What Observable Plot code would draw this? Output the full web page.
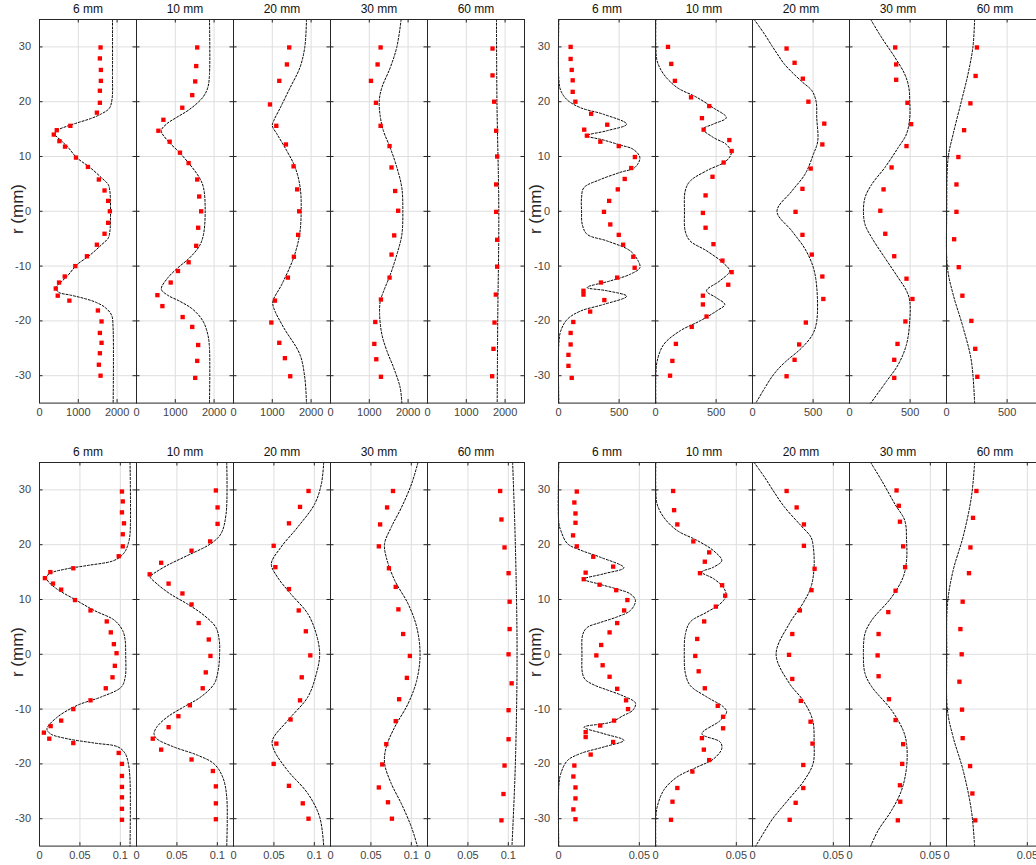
<!DOCTYPE html>
<html><head><meta charset="utf-8">
<script src="https://cdn.jsdelivr.net/npm/d3@7"></script>
<script src="https://cdn.jsdelivr.net/npm/@observablehq/plot@0.6"></script>
<style>
html,body{margin:0;padding:0;background:#fff;overflow:hidden;}
#wrap{position:relative;width:1036px;height:865px;overflow:hidden;font-family:"Liberation Sans",Arial,Helvetica,sans-serif;}
.grp{position:absolute;}
.ylab{position:absolute;font-size:17px;color:#262626;transform:translate(-50%,-50%) rotate(-90deg);white-space:nowrap;line-height:1;}
</style></head><body><div id="wrap"></div>
<script>
const panels = ["6 mm", "10 mm", "20 mm", "30 mm", "60 mm"];
const rTicks = [-30, -20, -10, 0, 10, 20, 30];
const rDomain = [-35, 35];

// ---------- top-left group ----------
const tlTicks = [0, 1000, 2000];
const tlDomain = [0, 2500];
const tlPoints = [
  [[29.9,1573],[27.9,1556],[25.8,1582],[23.8,1582],[22.0,1556],[19.8,1556],[18.0,1479],[15.6,795],[14.8,445],[14.0,368],[12.8,513],[11.8,658],[9.8,940],[8.1,1248],[5.8,1530],[3.8,1676],[1.9,1770],[0,1813],[-2.1,1770],[-4.1,1676],[-6.1,1479],[-8.2,1223],[-10.0,923],[-11.9,650],[-13.0,504],[-14.1,419],[-15.4,470],[-16.3,770],[-18.1,1505],[-20.1,1599],[-22.2,1556],[-24.0,1599],[-25.9,1556],[-28.0,1530],[-30.0,1573]],
  [[29.9,1565],[26.5,1539],[23.7,1513],[21.2,1436],[18.9,1180],[16.7,693],[14.7,564],[12.7,855],[10.7,1120],[8.8,1343],[5.8,1565],[2.7,1616],[0,1667],[-3.0,1590],[-6.3,1539],[-9.3,1343],[-10.9,1069],[-13.0,881],[-15.3,539],[-17.3,667],[-19.3,1189],[-21.1,1436],[-24.4,1590],[-27.3,1565],[-30.4,1513]],
  [[29.9,1436],[26.8,1377],[23.8,1180],[19.5,940],[15.6,1103],[12.2,1351],[8.2,1548],[4.0,1642],[0,1693],[-4.3,1667],[-8.3,1556],[-12.1,1402],[-16.3,1069],[-20.3,975],[-24.0,1180],[-26.8,1325],[-30.1,1462]],
  [[29.9,1291],[26.8,1214],[23.8,1043],[19.8,1171],[15.6,1291],[11.9,1522],[8.0,1573],[3.7,1667],[0.1,1744],[-4.4,1642],[-7.9,1573],[-12.1,1522],[-16.1,1300],[-20.2,1154],[-24.2,1129],[-27.0,1180],[-30.2,1300]],
  [[29.7,1676],[24.8,1676],[20.0,1719],[14.7,1770],[10.0,1796],[4.9,1770],[-0.1,1770],[-5.2,1796],[-10.1,1796],[-15.2,1761],[-20.3,1727],[-25.1,1701],[-30.1,1667]]
];
const tlCurves = [
  [[35,1881],[25,1881],[20.5,1870],[18.8,1800],[17.8,1600],[17.0,1350],[16.2,1000],[15.5,700],[14.8,470],[14.1,395],[12.8,573],[11.6,744],[9.8,958],[8.0,1300],[6.1,1600],[4.9,1770],[3.7,1813],[0,1830],[-3.7,1813],[-4.9,1770],[-6.1,1600],[-8.0,1300],[-9.8,958],[-11.6,744],[-12.8,573],[-14.0,410],[-14.8,500],[-15.3,800],[-15.9,1150],[-16.6,1450],[-17.6,1700],[-19.0,1860],[-21,1895],[-35,1898]],
  [[35,1881],[25,1881],[22.6,1838],[20.8,1710],[18.6,1368],[17.1,1026],[15.9,770],[14.7,640],[12.8,812],[11.0,1069],[8.6,1368],[6.1,1624],[4.3,1727],[0,1770],[-4.2,1727],[-6.3,1624],[-8.5,1368],[-10.3,1069],[-12.1,812],[-14.2,640],[-15.3,800],[-16.4,1111],[-17.9,1453],[-20.0,1710],[-22.5,1838],[-25,1881],[-35,1881]],
  [[35,1881],[30,1838],[26.2,1710],[22.6,1462],[18.9,1206],[16.5,1035],[15.6,1000],[14.1,1120],[11.0,1377],[8.0,1590],[4.3,1719],[0,1744],[-4.3,1702],[-8.5,1548],[-13.3,1248],[-16.4,1017],[-17.6,1035],[-21.2,1291],[-26.1,1710],[-30.4,1838],[-35,1881]],
  [[35,1821],[30,1710],[26.2,1539],[22.6,1325],[20.2,1257],[17.3,1283],[14.6,1368],[11.6,1539],[8.0,1710],[4.3,1838],[0,1864],[-4.3,1838],[-7.9,1710],[-11.6,1539],[-14.6,1368],[-16.4,1283],[-18.8,1266],[-22.5,1325],[-25.5,1454],[-28.5,1625],[-32.2,1796],[-35,1838]],
  [[35,1778],[20,1790],[0,1838],[-20,1810],[-35,1796]]
];

// ---------- top-right group ----------
const trTicks = [0, 500];
const trDomain = [0, 800];
const trPoints = [
  [[30.0,100],[27.8,100],[25.8,109],[23.9,117],[21.8,117],[20.0,139],[17.8,269],[15.8,402],[14.9,212],[13.8,234],[12.7,345],[11.9,497],[9.9,630],[7.9,600],[5.9,546],[4.0,489],[1.9,418],[-0.1,375],[-2.4,427],[-4.3,497],[-6.1,533],[-8.3,617],[-10.3,628],[-12.1,484],[-13.0,350],[-14.5,206],[-15.2,206],[-16.2,378],[-18.3,261],[-20.2,122],[-22.2,100],[-24.3,100],[-26.2,82],[-28.2,82],[-30.4,109]],
  [[30.0,103],[26.9,130],[23.8,160],[20.8,293],[19.2,443],[17.0,383],[14.9,397],[13.0,609],[11.0,628],[8.9,562],[6.3,470],[2.9,413],[-0.3,391],[-3.0,413],[-6.0,478],[-9.0,552],[-11.1,628],[-13.4,600],[-15.4,391],[-17.0,391],[-19.2,421],[-21.1,299],[-24.2,168],[-27.3,139],[-30.0,120]],
  [[29.7,281],[27.1,347],[24.2,415],[20.0,461],[16.0,592],[12.2,576],[7.8,480],[4.1,412],[-0.1,355],[-4.3,412],[-7.9,489],[-11.9,576],[-16.0,584],[-20.3,440],[-24.3,385],[-27.1,347],[-30.1,281]],
  [[29.9,377],[26.8,385],[24.0,385],[19.8,478],[15.9,508],[11.9,470],[8.0,347],[4.0,281],[0.1,254],[-4.1,295],[-8.2,369],[-12.3,470],[-16.0,519],[-20.1,461],[-24.2,396],[-27.1,369],[-30.4,369]],
  [[29.9,251],[24.7,240],[19.7,197],[14.8,145],[9.9,98],[4.9,82],[-0.1,82],[-5.1,63],[-10.2,101],[-15.4,131],[-20.0,205],[-25.1,237],[-30.2,254]]
];
const trCurves = [
  [[35,3],[24,3],[22,19],[20.3,73],[18.9,182],[17.7,372],[15.9,562],[14.7,399],[13.8,236],[13.0,372],[12.1,508],[11.3,617],[9.8,671],[8.0,630],[7.1,508],[5.8,345],[4.3,209],[2.5,190],[0,190],[-2.4,196],[-4.2,236],[-5.4,399],[-7.2,590],[-9.1,658],[-10.3,671],[-11.5,590],[-12.7,427],[-13.9,236],[-14.5,399],[-15.5,562],[-17.0,372],[-18.2,182],[-19.7,73],[-21.8,19],[-24,3],[-35,3]],
  [[35,3],[30,3],[27.4,14],[25.0,68],[22.6,177],[20.8,340],[18.9,475],[17.1,584],[15.9,475],[15.0,394],[13.5,475],[12.2,584],[10.7,625],[9.2,584],[7.4,421],[5.5,285],[3.7,245],[0,239],[-3.6,245],[-5.4,285],[-7.2,421],[-9.4,557],[-10.9,611],[-12.7,530],[-14.5,421],[-15.8,503],[-17.0,571],[-18.2,503],[-20.0,367],[-21.8,204],[-24.3,68],[-27.3,14],[-30,3],[-35,3]],
  [[35,14],[32.3,100],[30.2,160],[28.7,205],[26.8,265],[23.8,400],[22,490],[20,525],[17,530],[12.8,538],[10.4,502],[6.8,434],[3.7,325],[0,202],[-3.6,325],[-6.9,434],[-10.3,502],[-13.9,530],[-20,530],[-22.5,495],[-24.9,407],[-27.3,280],[-28.7,215],[-30.2,160],[-32.3,100],[-35,27]],
  [[35,175],[31.7,265],[28.1,374],[25.0,456],[22.6,489],[20.1,497],[17.1,497],[14.1,470],[11.6,401],[8.0,292],[4.9,183],[2.5,128],[0,115],[-2.4,128],[-4.8,183],[-8.5,292],[-12.1,401],[-14.5,470],[-16.4,497],[-20.0,497],[-24.3,470],[-28.0,401],[-31.0,306],[-35,175]],
  [[35,232],[30,218],[25,177],[20.1,123],[14.1,55],[9.8,14],[0,2],[-10.3,8],[-15.2,55],[-21.2,137],[-27.3,205],[-35,232]]
];

// ---------- bottom-left group ----------
const blTicks = [0, 0.05, 0.1];
const blDomain = [0, 0.12];
const blPoints = [
  [[29.7,0.102],[27.9,0.103],[25.9,0.102],[23.9,0.1045],[21.9,0.103],[19.7,0.103],[17.9,0.098],[15.7,0.0418],[15.0,0.0134],[13.9,0.0067],[12.9,0.0167],[11.8,0.0268],[9.9,0.0439],[8.0,0.0631],[6.0,0.0832],[4.0,0.0882],[1.85,0.092],[0.2,0.0953],[-2.1,0.0932],[-4.2,0.0903],[-6.2,0.082],[-8.4,0.0631],[-10.0,0.0418],[-12.1,0.0268],[-13.1,0.0138],[-14.3,0.0054],[-15.4,0.0121],[-16.2,0.0418],[-18.0,0.098],[-20.0,0.102],[-22.2,0.102],[-24.2,0.102],[-26.1,0.102],[-28.2,0.102],[-30.2,0.102]],
  [[29.9,0.0982],[26.8,0.1003],[23.8,0.1003],[20.6,0.0911],[18.9,0.0681],[16.7,0.0305],[14.6,0.0163],[12.9,0.0397],[11.1,0.0568],[9.1,0.0681],[5.7,0.0769],[2.7,0.0894],[-0.3,0.0915],[-3.3,0.0857],[-6.2,0.0819],[-9.3,0.066],[-11.3,0.0518],[-13.3,0.0397],[-15.4,0.0201],[-17.4,0.0305],[-19.2,0.0681],[-21.3,0.0945],[-24.1,0.0982],[-27.2,0.0982],[-30.1,0.0982]],
  [[29.8,0.0928],[26.9,0.0823],[23.9,0.0686],[19.8,0.0497],[15.9,0.0518],[11.9,0.0686],[8.0,0.0807],[4.2,0.0895],[-0.2,0.095],[-4.2,0.0844],[-8.4,0.0823],[-11.9,0.0706],[-16.3,0.053],[-20.0,0.0497],[-24.0,0.0686],[-27.2,0.0857],[-30.0,0.0928]],
  [[29.8,0.0773],[26.8,0.070],[23.7,0.0614],[19.7,0.0598],[15.7,0.0723],[12.3,0.0807],[8.2,0.084],[3.7,0.0899],[-0.3,0.0982],[-4.3,0.0945],[-8.2,0.0849],[-12.2,0.0807],[-16.4,0.069],[-20.1,0.064],[-24.3,0.0598],[-27.0,0.0711],[-30.0,0.076]],
  [[29.8,0.0899],[24.6,0.0915],[19.5,0.0953],[14.8,0.1003],[9.6,0.1016],[4.6,0.1016],[0,0.1003],[-5.3,0.1041],[-10.2,0.1003],[-15.5,0.1003],[-20.3,0.0953],[-25.5,0.094],[-30.3,0.0915]]
];
const blCurves = [
  [[35,0.112],[22,0.112],[20.3,0.110],[18.8,0.106],[17.8,0.100],[17.0,0.090],[16.2,0.059],[15.6,0.034],[14.8,0.0134],[14.1,0.0084],[13.2,0.0113],[11.9,0.0217],[10.1,0.0426],[8.0,0.0677],[6.2,0.0928],[4.3,0.103],[2.5,0.106],[0,0.1066],[-4.2,0.106],[-6.0,0.101],[-7.8,0.076],[-9.3,0.047],[-11.5,0.0217],[-13.6,0.0092],[-14.5,0.0134],[-15.4,0.034],[-16.2,0.068],[-16.9,0.097],[-18.1,0.106],[-20.0,0.110],[-23,0.112],[-35,0.112]],
  [[35,0.1116],[25.6,0.1108],[22.0,0.1045],[20.2,0.092],[18.0,0.0627],[16.2,0.0376],[14.7,0.0209],[14.2,0.0167],[12.9,0.025],[11.0,0.0418],[9.2,0.0627],[7.1,0.0836],[4.9,0.0982],[2.5,0.1024],[0,0.1028],[-2.9,0.1011],[-5.4,0.096],[-7.8,0.0794],[-9.6,0.0585],[-11.5,0.0376],[-13.3,0.025],[-14.5,0.0217],[-15.4,0.025],[-16.9,0.046],[-18.4,0.0752],[-20.0,0.096],[-22.4,0.1066],[-26,0.1116],[-35,0.1116]],
  [[35,0.1116],[31.1,0.1087],[27.4,0.1003],[23.2,0.0794],[19.5,0.0585],[16.5,0.0468],[14.1,0.0543],[11.0,0.071],[7.4,0.0919],[3.7,0.1024],[0,0.1066],[-3.6,0.1024],[-7.8,0.0919],[-12.1,0.0669],[-15.7,0.0481],[-17.5,0.0502],[-21.2,0.0669],[-25.4,0.0919],[-29.7,0.1066],[-35,0.1116]],
  [[35,0.1082],[31.1,0.1003],[26.8,0.0878],[23.2,0.0752],[20.2,0.0669],[17.7,0.069],[13.5,0.0794],[9.2,0.096],[5.0,0.1066],[0,0.1108],[-4.8,0.1066],[-9.0,0.096],[-13.3,0.0794],[-16.9,0.069],[-19.9,0.0669],[-23.6,0.0752],[-27.3,0.0878],[-31.6,0.1003],[-35,0.1074]],
  [[35,0.1053],[20,0.1087],[0,0.1108],[-20,0.1087],[-35,0.1045]]
];

// ---------- bottom-right group ----------
const brTicks = [0, 0.05];
const brDomain = [0, 0.06];
const brPoints = [
  [[29.7,0.0113],[27.7,0.0098],[25.7,0.0105],[24.0,0.0105],[21.7,0.009],[19.7,0.0113],[17.8,0.0215],[16.0,0.0338],[14.9,0.0168],[13.7,0.0156],[12.7,0.0254],[11.7,0.0357],[9.9,0.0426],[8.0,0.0406],[5.7,0.0363],[4.0,0.0316],[1.7,0.0264],[-0.2,0.0234],[-2.0,0.0273],[-4.1,0.0316],[-6.3,0.0363],[-8.4,0.0418],[-10.0,0.043],[-12.1,0.0344],[-13.0,0.0258],[-14.2,0.0168],[-15.1,0.0168],[-16.0,0.0338],[-18.3,0.0199],[-20.3,0.0098],[-22.3,0.0092],[-24.3,0.0105],[-26.3,0.0105],[-28.3,0.0092],[-30.1,0.0105]],
  [[29.8,0.0109],[26.3,0.0115],[23.7,0.0135],[20.6,0.0234],[18.6,0.0332],[16.9,0.0305],[14.8,0.0275],[12.6,0.0412],[10.7,0.0431],[8.7,0.0373],[6.0,0.0301],[2.8,0.0258],[-0.3,0.0246],[-3.1,0.0267],[-6.2,0.0305],[-9.4,0.0385],[-11.4,0.0418],[-13.5,0.0418],[-15.3,0.0287],[-17.4,0.0299],[-19.3,0.0332],[-21.4,0.0228],[-24.4,0.0135],[-26.9,0.0105],[-30.2,0.0096]],
  [[29.8,0.0211],[26.8,0.0273],[23.7,0.0318],[19.8,0.0318],[15.6,0.0384],[11.7,0.0365],[8.0,0.0293],[3.7,0.0246],[-0.1,0.0226],[-4.5,0.0246],[-8.5,0.0299],[-12.3,0.0359],[-16.3,0.0371],[-20.2,0.0314],[-24.4,0.0314],[-27.1,0.0267],[-30.2,0.023]],
  [[29.9,0.0291],[27.1,0.0305],[24.2,0.0312],[19.7,0.0332],[15.9,0.0344],[11.6,0.0285],[7.7,0.024],[3.7,0.018],[-0.2,0.0174],[-4.0,0.018],[-8.2,0.0244],[-12.0,0.0285],[-16.4,0.0332],[-20.0,0.0326],[-23.9,0.0312],[-26.9,0.0314],[-30.3,0.0299]],
  [[29.8,0.0185],[24.9,0.0164],[19.5,0.0148],[14.8,0.0139],[9.6,0.010],[4.6,0.0086],[0,0.0094],[-5.0,0.008],[-10.1,0.0096],[-15.3,0.010],[-20.4,0.0146],[-25.4,0.016],[-30.3,0.0178]]
];
const brCurves = [
  [[35,0.0002],[24,0.0002],[22.6,0.0014],[20.2,0.0055],[19.0,0.0137],[17.7,0.026],[15.8,0.0404],[14.7,0.0281],[13.7,0.0158],[12.9,0.024],[11.9,0.0363],[11.0,0.0445],[9.8,0.0476],[8.0,0.0445],[6.8,0.036],[5.8,0.0258],[4.9,0.0178],[3.6,0.015],[0,0.0145],[-3.4,0.0148],[-4.6,0.0165],[-5.6,0.022],[-6.6,0.031],[-7.6,0.040],[-8.9,0.0476],[-10.2,0.046],[-11.2,0.040],[-12.4,0.0322],[-13.3,0.0158],[-14.5,0.0281],[-15.7,0.0404],[-16.9,0.0281],[-18.1,0.0137],[-19.4,0.0055],[-21.8,0.0014],[-24,0.0002],[-35,0.0002]],
  [[35,0.0002],[30,0.0002],[27.4,0.001],[25.0,0.0051],[22.6,0.0133],[20.8,0.0256],[18.9,0.0359],[17.1,0.041],[15.9,0.0359],[15.0,0.0287],[13.8,0.0359],[12.2,0.042],[10.7,0.0437],[9.2,0.040],[7.7,0.0318],[5.9,0.0215],[3.7,0.0185],[0,0.0178],[-3.5,0.0185],[-5.7,0.0215],[-7.8,0.0318],[-9.6,0.042],[-10.5,0.044],[-12.1,0.040],[-14.5,0.0287],[-16.0,0.040],[-17.2,0.041],[-19.1,0.0359],[-20.6,0.0256],[-22.4,0.0133],[-24.8,0.0051],[-27.9,0.001],[-30,0.0002],[-35,0.0002]],
  [[35,0.001],[32.3,0.0075],[30,0.0125],[26.9,0.0197],[23.5,0.0299],[21.4,0.0361],[19.8,0.0375],[15.9,0.0381],[12.2,0.0361],[9.2,0.031],[5.6,0.0228],[0,0.0146],[-5.3,0.0228],[-8.3,0.031],[-11.9,0.0371],[-16.3,0.0381],[-19.9,0.0375],[-23.0,0.032],[-26.7,0.0217],[-30,0.0125],[-32.3,0.0075],[-35,0.002]],
  [[35,0.0131],[31.7,0.0199],[27.4,0.0281],[24.4,0.0342],[20.8,0.0353],[17.2,0.0353],[14.1,0.0332],[10.4,0.026],[6.2,0.0137],[3.8,0.0096],[0,0.0086],[-3.5,0.0096],[-5.9,0.0137],[-10.2,0.026],[-13.9,0.0332],[-16.3,0.0353],[-20.6,0.0353],[-24.8,0.0322],[-28.5,0.026],[-32.1,0.0178],[-35,0.0131]],
  [[35,0.0174],[28.7,0.0154],[21.5,0.0103],[15.3,0.0041],[9.2,0.0006],[0,0.0002],[-10.2,0.0006],[-15.1,0.0041],[-21.2,0.0103],[-28.5,0.0154],[-35,0.0174]]
];

const groups = [
  {points: tlPoints, curves: tlCurves, ticks: tlTicks, domain: tlDomain, frameLeft: 39.3, frameTop: 18.6},
  {points: trPoints, curves: trCurves, ticks: trTicks, domain: trDomain, frameLeft: 557.7, frameTop: 18.6},
  {points: blPoints, curves: blCurves, ticks: blTicks, domain: blDomain, frameLeft: 39.3, frameTop: 461.7},
  {points: brPoints, curves: brCurves, ticks: brTicks, domain: brDomain, frameLeft: 557.7, frameTop: 461.7}
];

const wrap = document.getElementById("wrap");
const W = 97, H = 383.6, ML = 44, MT = 26, MB = 24;
const font = '"Liberation Sans", Arial, Helvetica, sans-serif';
const fmt = d => String(d);

for (const g of groups) {
  const rowsP = g.points.flatMap((arr, i) => arr.map(([r, v]) => ({panel: panels[i], r, v})));
  const rowsC = g.curves.flatMap((arr, i) => arr.map(([r, v]) => ({panel: panels[i], r, v})));
  const inner = g.ticks.filter(t => t > 0);
  const svg = Plot.plot({
    width: ML + 5 * W + 2,
    height: MT + H + MB,
    marginLeft: ML, marginRight: 2, marginTop: MT, marginBottom: MB,
    style: {background: "transparent", maxWidth: "none", overflow: "visible", fontFamily: font, fontSize: "11px", fontWeight: "normal"},
    fx: {domain: panels, padding: 0, axis: null, label: null},
    x: {domain: g.domain, axis: null, label: null},
    y: {domain: rDomain, axis: null, label: null},
    marks: [
      Plot.gridX(inner, {stroke: "#dedede", strokeOpacity: 1}),
      Plot.gridY(rTicks, {stroke: "#dedede", strokeOpacity: 1}),
      Plot.line(rowsC, {fx: "panel", x: "v", y: "r", stroke: "#000", strokeWidth: 1, strokeDasharray: "2,1.8", curve: "catmull-rom"}),
      Plot.dot(rowsP, {fx: "panel", x: "v", y: "r", symbol: "square", r: 2.45, fill: "#ff0000", stroke: null}),
      Plot.tickY(rTicks, {y: d => d, insetRight: W - 3.5, stroke: "#262626"}),
      Plot.tickY(rTicks, {y: d => d, insetLeft: W - 3.5, stroke: "#262626"}),
      Plot.tickX(inner, {x: d => d, insetBottom: H - 3.5, stroke: "#262626"}),
      Plot.tickX(inner, {x: d => d, insetTop: H - 3.5, stroke: "#262626"}),
      Plot.frame({stroke: "#262626", strokeWidth: 1}),
      Plot.axisX({ticks: g.ticks, tickSize: 0, tickPadding: 5, tickFormat: fmt, label: null, color: "#444", fontSize: 11}),
      Plot.axisY({ticks: rTicks, tickSize: 0, tickPadding: 8.5, tickFormat: fmt, label: null, color: "#444", fontSize: 11}),
      Plot.axisFx({anchor: "top", tickSize: 0, tickPadding: 6, label: null, color: "#111", fontSize: 12, fontWeight: "normal"})
    ]
  });
  const box = document.createElement("div");
  box.className = "grp";
  box.style.left = (g.frameLeft - ML) + "px";
  box.style.top = (g.frameTop - MT) + "px";
  box.appendChild(svg);
  wrap.appendChild(box);

  const lab = document.createElement("div");
  lab.className = "ylab";
  lab.textContent = "r (mm)";
  lab.style.left = (g.frameLeft - 22.5) + "px";
  lab.style.top = (g.frameTop + H / 2 - 1.5) + "px";
  wrap.appendChild(lab);
}
</script></body></html>
